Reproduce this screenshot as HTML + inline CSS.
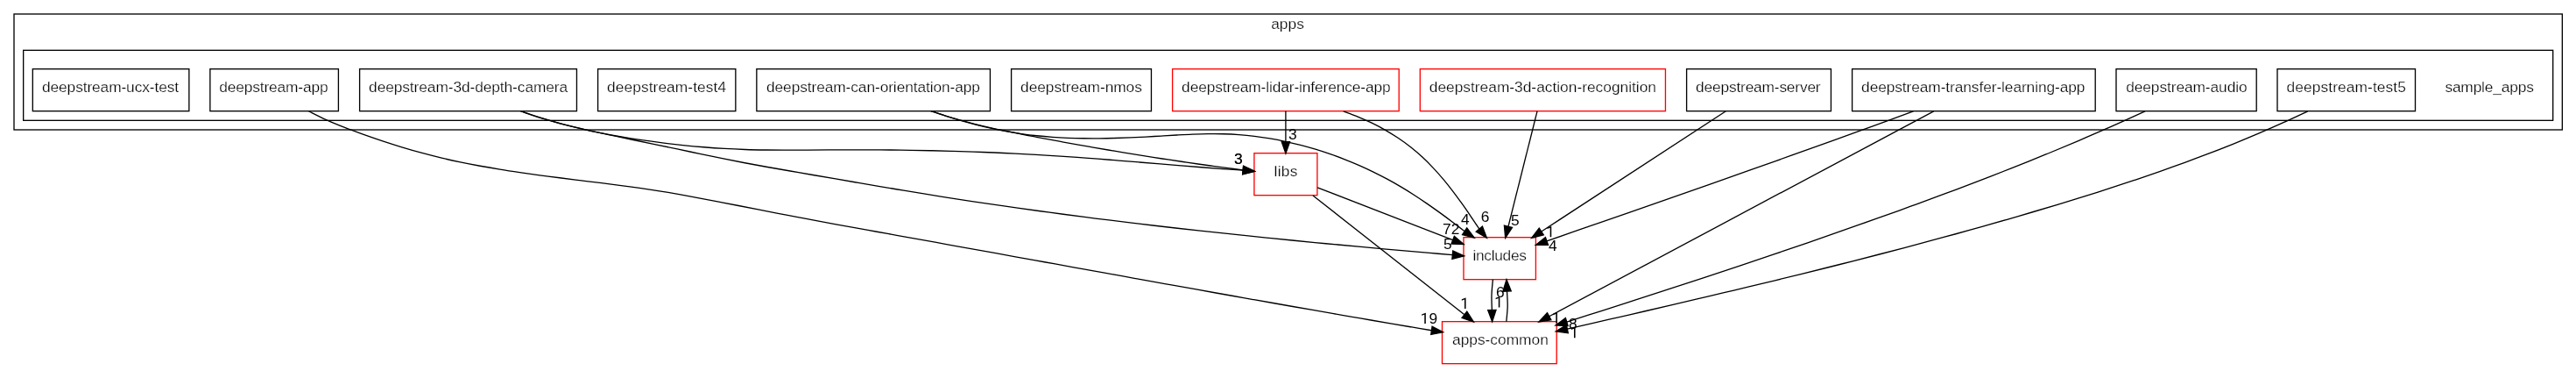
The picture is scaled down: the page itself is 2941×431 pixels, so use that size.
<!DOCTYPE html>
<html><head><meta charset="utf-8"><title>apps</title>
<style>html,body{margin:0;padding:0;background:#fff;}svg{display:block;}text{font-family:"Liberation Sans",sans-serif;fill:#000;}text.n{stroke:#fff;stroke-width:0.25px;}</style></head><body>
<svg width="2941" height="431" viewBox="0 0 2941 431">
<rect x="0" y="0" width="2941" height="431" fill="#fff"/>
<rect x="16.00" y="16.00" width="2909.33" height="132.00" fill="none" stroke="#000" stroke-width="1.33"/>
<rect x="26.67" y="57.33" width="2888.00" height="80.00" fill="none" stroke="#000" stroke-width="1.33"/>
<rect x="37.33" y="78.67" width="178.52" height="48.00" fill="#fff" stroke="black" stroke-width="1.33"/>
<rect x="239.85" y="78.67" width="146.55" height="48.00" fill="#fff" stroke="black" stroke-width="1.33"/>
<rect x="410.60" y="78.67" width="247.85" height="48.00" fill="#fff" stroke="black" stroke-width="1.33"/>
<rect x="682.60" y="78.67" width="157.25" height="48.00" fill="#fff" stroke="black" stroke-width="1.33"/>
<rect x="863.85" y="78.67" width="266.60" height="48.00" fill="#fff" stroke="black" stroke-width="1.33"/>
<rect x="1154.60" y="78.67" width="159.85" height="48.00" fill="#fff" stroke="black" stroke-width="1.33"/>
<rect x="1338.60" y="78.67" width="258.60" height="48.00" fill="#fff" stroke="red" stroke-width="1.33"/>
<rect x="1621.30" y="78.67" width="280.15" height="48.00" fill="#fff" stroke="red" stroke-width="1.33"/>
<rect x="1925.60" y="78.67" width="164.85" height="48.00" fill="#fff" stroke="black" stroke-width="1.33"/>
<rect x="2114.60" y="78.67" width="277.60" height="48.00" fill="#fff" stroke="black" stroke-width="1.33"/>
<rect x="2416.00" y="78.67" width="160.20" height="48.00" fill="#fff" stroke="black" stroke-width="1.33"/>
<rect x="2600.00" y="78.67" width="157.50" height="48.00" fill="#fff" stroke="black" stroke-width="1.33"/>
<rect x="1431.90" y="174.67" width="72.00" height="48.00" fill="#fff" stroke="red" stroke-width="1.33"/>
<rect x="1671.00" y="270.67" width="82.40" height="48.00" fill="#fff" stroke="red" stroke-width="1.33"/>
<rect x="1646.50" y="366.67" width="130.70" height="48.00" fill="#fff" stroke="red" stroke-width="1.33"/>
<path d="M351.90,126.50 C355.33,128.18 365.53,133.45 372.48,136.61 C379.43,139.76 386.51,142.63 393.62,145.43 C400.73,148.23 407.93,150.83 415.14,153.40 C422.35,155.97 429.61,158.45 436.90,160.85 C444.18,163.25 451.50,165.57 458.85,167.79 C466.19,170.00 473.57,172.13 480.97,174.14 C488.37,176.15 495.80,178.05 503.24,179.83 C510.69,181.62 518.16,183.27 525.64,184.84 C533.13,186.41 540.63,187.86 548.15,189.25 C555.67,190.63 563.21,191.91 570.76,193.15 C578.30,194.38 585.87,195.52 593.44,196.63 C601.01,197.74 608.59,198.78 616.17,199.81 C623.76,200.83 631.35,201.80 638.95,202.76 C646.55,203.73 654.15,204.66 661.75,205.60 C669.35,206.54 676.96,207.46 684.55,208.42 C692.15,209.37 699.75,210.32 707.35,211.32 C714.94,212.32 722.53,213.34 730.11,214.42 C737.68,215.51 745.26,216.63 752.82,217.83 C760.38,219.03 767.92,220.31 775.46,221.64 C783.00,222.97 790.53,224.37 798.05,225.79 C805.58,227.20 813.10,228.66 820.61,230.11 C828.13,231.57 835.65,233.04 843.16,234.51 C850.68,235.98 858.19,237.45 865.70,238.92 C873.22,240.39 880.73,241.86 888.25,243.32 C895.77,244.78 903.28,246.23 910.81,247.66 C918.33,249.10 925.85,250.51 933.38,251.92 C940.90,253.32 948.43,254.71 955.97,256.08 C963.50,257.46 971.03,258.83 978.56,260.19 C986.10,261.55 993.63,262.91 1001.17,264.26 C1008.71,265.62 1016.24,266.97 1023.78,268.32 C1031.32,269.67 1038.85,271.03 1046.39,272.38 C1053.92,273.74 1061.46,275.10 1068.99,276.46 C1076.53,277.81 1084.06,279.17 1091.60,280.53 C1099.13,281.89 1106.67,283.26 1114.20,284.62 C1121.74,285.98 1129.27,287.34 1136.81,288.70 C1144.34,290.06 1151.87,291.43 1159.41,292.79 C1166.94,294.15 1174.48,295.52 1182.01,296.88 C1189.55,298.24 1197.08,299.60 1204.62,300.97 C1212.15,302.33 1219.68,303.69 1227.22,305.05 C1234.75,306.42 1242.29,307.78 1249.82,309.14 C1257.36,310.50 1264.89,311.86 1272.43,313.22 C1279.96,314.57 1287.50,315.93 1295.03,317.29 C1302.57,318.64 1310.11,320.00 1317.64,321.35 C1325.18,322.71 1332.71,324.06 1340.25,325.41 C1347.79,326.76 1355.32,328.11 1362.86,329.46 C1370.40,330.80 1377.94,332.15 1385.47,333.49 C1393.01,334.84 1400.55,336.18 1408.09,337.52 C1415.63,338.86 1423.17,340.19 1430.71,341.53 C1438.25,342.86 1445.79,344.19 1453.33,345.52 C1460.87,346.85 1468.41,348.18 1475.95,349.50 C1483.49,350.82 1491.03,352.14 1498.57,353.46 C1506.12,354.78 1513.66,356.09 1521.20,357.40 C1528.75,358.71 1536.29,360.02 1543.84,361.32 C1551.38,362.63 1558.93,363.93 1566.47,365.22 C1574.02,366.52 1581.57,367.81 1589.11,369.10 C1596.66,370.39 1604.21,371.67 1611.76,372.95 C1619.31,374.23 1630.63,376.14 1634.41,376.78" fill="none" stroke="#000" stroke-width="1.33"/>
<polygon points="1633.74,381.40 1647.60,378.70 1635.08,372.16" fill="#000" stroke="#000" stroke-width="1.33" stroke-linejoin="miter"/>
<path d="M594.50,126.60 C598.25,127.86 609.45,131.80 616.99,134.17 C624.53,136.54 632.12,138.74 639.74,140.81 C647.36,142.88 655.03,144.80 662.72,146.60 C670.41,148.41 678.14,150.07 685.89,151.63 C693.63,153.19 701.41,154.62 709.21,155.97 C717.00,157.31 724.82,158.54 732.65,159.69 C740.48,160.85 748.32,161.90 756.17,162.88 C764.03,163.87 771.89,164.77 779.76,165.59 C787.62,166.40 795.50,167.14 803.38,167.78 C811.26,168.42 819.15,168.97 827.04,169.42 C834.93,169.87 842.82,170.22 850.72,170.48 C858.61,170.75 866.51,170.90 874.42,171.01 C882.32,171.13 890.22,171.15 898.12,171.16 C906.03,171.17 913.94,171.12 921.84,171.08 C929.75,171.04 937.66,170.97 945.56,170.92 C953.47,170.88 961.38,170.84 969.28,170.83 C977.19,170.82 985.10,170.83 993.00,170.87 C1000.91,170.90 1008.81,170.95 1016.72,171.03 C1024.62,171.11 1032.53,171.21 1040.43,171.33 C1048.34,171.46 1056.24,171.60 1064.14,171.78 C1072.05,171.95 1079.95,172.15 1087.85,172.37 C1095.75,172.59 1103.65,172.84 1111.55,173.12 C1119.45,173.39 1127.34,173.70 1135.24,174.03 C1143.14,174.36 1151.03,174.72 1158.93,175.10 C1166.82,175.49 1174.72,175.91 1182.61,176.36 C1190.50,176.80 1198.39,177.28 1206.28,177.79 C1214.17,178.30 1222.06,178.84 1229.94,179.40 C1237.83,179.96 1245.71,180.56 1253.60,181.17 C1261.48,181.77 1269.37,182.40 1277.25,183.04 C1285.13,183.68 1293.01,184.33 1300.89,184.98 C1308.78,185.63 1316.66,186.30 1324.54,186.95 C1332.42,187.60 1340.30,188.26 1348.18,188.89 C1356.06,189.53 1363.94,190.17 1371.83,190.78 C1379.71,191.39 1387.59,191.99 1395.47,192.56 C1403.36,193.13 1415.18,193.93 1419.12,194.20" fill="none" stroke="#000" stroke-width="1.33"/>
<polygon points="1418.70,198.85 1432.40,195.40 1419.54,189.55" fill="#000" stroke="#000" stroke-width="1.33" stroke-linejoin="miter"/>
<path d="M594.50,126.80 C598.66,128.19 611.08,132.60 619.45,135.16 C627.83,137.73 636.28,140.00 644.75,142.19 C653.23,144.37 661.76,146.34 670.30,148.28 C678.84,150.22 687.42,152.02 695.99,153.84 C704.56,155.67 713.14,157.44 721.72,159.24 C730.31,161.03 738.89,162.81 747.47,164.59 C756.06,166.38 764.64,168.17 773.22,169.96 C781.80,171.76 790.37,173.58 798.95,175.37 C807.53,177.15 816.10,178.96 824.69,180.69 C833.28,182.42 841.87,184.12 850.47,185.75 C859.08,187.38 867.70,188.95 876.32,190.49 C884.94,192.04 893.57,193.53 902.21,195.03 C910.84,196.53 919.48,198.00 928.11,199.48 C936.75,200.97 945.39,202.46 954.03,203.95 C962.66,205.44 971.30,206.93 979.94,208.41 C988.58,209.89 997.22,211.37 1005.86,212.84 C1014.51,214.30 1023.15,215.76 1031.80,217.19 C1040.44,218.63 1049.09,220.05 1057.75,221.45 C1066.40,222.84 1075.06,224.22 1083.72,225.57 C1092.37,226.92 1101.04,228.25 1109.70,229.56 C1118.37,230.87 1127.04,232.16 1135.71,233.42 C1144.38,234.69 1153.05,235.93 1161.73,237.16 C1170.41,238.38 1179.09,239.59 1187.77,240.78 C1196.45,241.96 1205.14,243.13 1213.82,244.28 C1222.51,245.43 1231.20,246.56 1239.89,247.67 C1248.58,248.78 1257.28,249.88 1265.97,250.96 C1274.67,252.04 1283.37,253.10 1292.07,254.14 C1300.77,255.19 1309.47,256.22 1318.18,257.23 C1326.88,258.25 1335.59,259.24 1344.30,260.23 C1353.01,261.21 1361.72,262.18 1370.43,263.14 C1379.14,264.09 1387.85,265.04 1396.57,265.96 C1405.28,266.89 1414.00,267.81 1422.72,268.71 C1431.43,269.62 1440.15,270.51 1448.87,271.39 C1457.59,272.27 1466.31,273.14 1475.04,273.99 C1483.76,274.85 1492.48,275.70 1501.21,276.54 C1509.93,277.37 1518.66,278.20 1527.38,279.02 C1536.11,279.84 1544.84,280.65 1553.57,281.45 C1562.29,282.25 1571.02,283.04 1579.75,283.82 C1588.48,284.61 1597.21,285.39 1605.94,286.16 C1614.67,286.93 1623.40,287.69 1632.13,288.45 C1640.86,289.20 1653.96,290.33 1658.32,290.70" fill="none" stroke="#000" stroke-width="1.33"/>
<polygon points="1657.90,295.35 1671.60,291.90 1658.74,286.05" fill="#000" stroke="#000" stroke-width="1.33" stroke-linejoin="miter"/>
<path d="M1062.90,126.60 C1065.64,127.51 1073.82,130.34 1079.32,132.07 C1084.81,133.80 1090.34,135.41 1095.89,136.96 C1101.43,138.50 1107.00,139.95 1112.58,141.35 C1118.17,142.74 1123.77,144.06 1129.39,145.33 C1135.00,146.61 1140.63,147.81 1146.27,148.99 C1151.91,150.17 1157.56,151.30 1163.21,152.42 C1168.86,153.54 1174.53,154.62 1180.19,155.70 C1185.85,156.78 1191.51,157.84 1197.18,158.90 C1202.84,159.95 1208.51,161.00 1214.18,162.03 C1219.85,163.06 1225.52,164.08 1231.20,165.09 C1236.87,166.10 1242.55,167.10 1248.23,168.08 C1253.91,169.07 1259.59,170.04 1265.27,171.00 C1270.95,171.96 1276.64,172.91 1282.32,173.85 C1288.01,174.78 1293.70,175.71 1299.39,176.62 C1305.08,177.53 1310.77,178.43 1316.46,179.32 C1322.16,180.21 1327.85,181.09 1333.55,181.95 C1339.25,182.81 1344.95,183.66 1350.65,184.50 C1356.35,185.34 1362.05,186.16 1367.76,186.97 C1373.46,187.78 1379.17,188.58 1384.88,189.37 C1390.59,190.16 1396.30,190.93 1402.01,191.69 C1407.72,192.45 1416.29,193.55 1419.15,193.93" fill="none" stroke="#000" stroke-width="1.33"/>
<polygon points="1418.64,198.57 1432.40,195.40 1419.67,189.29" fill="#000" stroke="#000" stroke-width="1.33" stroke-linejoin="miter"/>
<path d="M1062.90,126.60 C1065.70,127.53 1074.05,130.39 1079.69,132.18 C1085.32,133.97 1091.00,135.70 1096.70,137.34 C1102.40,138.99 1108.13,140.56 1113.89,142.03 C1119.65,143.50 1125.44,144.90 1131.24,146.18 C1137.04,147.46 1142.87,148.65 1148.71,149.72 C1154.55,150.78 1160.40,151.75 1166.26,152.59 C1172.12,153.43 1177.99,154.15 1183.87,154.77 C1189.75,155.39 1195.64,155.89 1201.53,156.32 C1207.42,156.74 1213.33,157.05 1219.23,157.30 C1225.14,157.54 1231.05,157.69 1236.96,157.78 C1242.88,157.87 1248.80,157.88 1254.72,157.84 C1260.64,157.79 1266.56,157.68 1272.49,157.52 C1278.41,157.37 1284.34,157.16 1290.27,156.91 C1296.19,156.67 1302.12,156.38 1308.05,156.07 C1313.97,155.77 1319.90,155.41 1325.82,155.07 C1331.74,154.73 1337.66,154.35 1343.57,154.03 C1349.49,153.71 1355.41,153.38 1361.32,153.15 C1367.23,152.91 1373.14,152.71 1379.05,152.64 C1384.96,152.57 1390.87,152.56 1396.78,152.72 C1402.69,152.88 1408.60,153.15 1414.50,153.59 C1420.40,154.03 1426.30,154.62 1432.19,155.34 C1438.07,156.07 1443.96,156.94 1449.81,157.93 C1455.66,158.92 1461.50,160.05 1467.31,161.29 C1473.12,162.54 1478.91,163.91 1484.65,165.39 C1490.40,166.87 1496.12,168.47 1501.80,170.18 C1507.47,171.89 1513.12,173.71 1518.72,175.65 C1524.32,177.58 1529.88,179.63 1535.39,181.79 C1540.91,183.95 1546.38,186.22 1551.80,188.59 C1557.22,190.97 1562.60,193.46 1567.92,196.05 C1573.24,198.65 1578.51,201.35 1583.72,204.16 C1588.93,206.97 1594.09,209.89 1599.19,212.91 C1604.29,215.92 1609.32,219.05 1614.31,222.26 C1619.30,225.46 1624.23,228.77 1629.12,232.12 C1634.01,235.48 1638.85,238.92 1643.67,242.39 C1648.48,245.86 1653.24,249.39 1657.99,252.94 C1662.73,256.49 1669.77,261.88 1672.13,263.67" fill="none" stroke="#000" stroke-width="1.33"/>
<polygon points="1669.53,267.55 1683.20,271.10 1674.73,259.80" fill="#000" stroke="#000" stroke-width="1.33" stroke-linejoin="miter"/>
<path d="M1467.90,126.80 L1467.90,161.57" fill="none" stroke="#000" stroke-width="1.33"/>
<polygon points="1463.23,161.57 1467.90,174.90 1472.57,161.57" fill="#000" stroke="#000" stroke-width="1.33" stroke-linejoin="miter"/>
<path d="M1533.80,126.80 C1536.53,127.84 1544.77,130.78 1550.16,133.02 C1555.55,135.25 1560.90,137.64 1566.14,140.20 C1571.39,142.76 1576.57,145.48 1581.63,148.37 C1586.69,151.27 1591.66,154.33 1596.49,157.57 C1601.32,160.80 1606.04,164.21 1610.60,167.79 C1615.15,171.38 1619.57,175.16 1623.83,179.08 C1628.10,183.01 1632.20,187.12 1636.19,191.34 C1640.18,195.56 1644.02,199.95 1647.78,204.41 C1651.54,208.86 1655.16,213.45 1658.72,218.09 C1662.28,222.73 1665.73,227.47 1669.14,232.22 C1672.54,236.97 1675.85,241.80 1679.13,246.61 C1682.41,251.42 1687.21,258.68 1688.83,261.09" fill="none" stroke="#000" stroke-width="1.33"/>
<polygon points="1685.25,264.09 1697.40,271.30 1692.41,258.09" fill="#000" stroke="#000" stroke-width="1.33" stroke-linejoin="miter"/>
<path d="M1755.00,126.80 L1721.95,258.37" fill="none" stroke="#000" stroke-width="1.33"/>
<polygon points="1717.42,257.23 1718.70,271.30 1726.48,259.51" fill="#000" stroke="#000" stroke-width="1.33" stroke-linejoin="miter"/>
<path d="M1970.40,126.80 L1759.77,264.02" fill="none" stroke="#000" stroke-width="1.33"/>
<polygon points="1757.22,260.11 1748.60,271.30 1762.32,267.94" fill="#000" stroke="#000" stroke-width="1.33" stroke-linejoin="miter"/>
<path d="M2184.40,126.80 C2176.68,129.63 2153.54,138.15 2138.10,143.78 C2122.65,149.40 2107.19,154.99 2091.72,160.56 C2076.25,166.13 2060.77,171.66 2045.29,177.18 C2029.80,182.69 2014.31,188.18 1998.80,193.65 C1983.30,199.13 1967.79,204.58 1952.28,210.02 C1936.77,215.46 1921.25,220.88 1905.73,226.30 C1890.21,231.72 1874.68,237.13 1859.16,242.53 C1843.63,247.93 1828.10,253.33 1812.57,258.73 C1797.05,264.13 1773.76,272.23 1765.99,274.93" fill="none" stroke="#000" stroke-width="1.33"/>
<polygon points="1764.46,270.51 1753.40,279.30 1767.52,279.34" fill="#000" stroke="#000" stroke-width="1.33" stroke-linejoin="miter"/>
<path d="M2207.70,126.80 L1768.66,360.73" fill="none" stroke="#000" stroke-width="1.33"/>
<polygon points="1766.47,356.61 1756.90,367.00 1770.86,364.85" fill="#000" stroke="#000" stroke-width="1.33" stroke-linejoin="miter"/>
<path d="M2449.00,126.80 C2442.72,129.65 2423.93,138.28 2411.33,143.87 C2398.73,149.46 2386.09,154.94 2373.41,160.33 C2360.72,165.73 2348.00,171.02 2335.25,176.24 C2322.49,181.46 2309.70,186.59 2296.88,191.66 C2284.06,196.72 2271.21,201.70 2258.34,206.63 C2245.46,211.56 2232.56,216.41 2219.64,221.22 C2206.72,226.03 2193.77,230.77 2180.81,235.48 C2167.85,240.19 2154.87,244.85 2141.88,249.47 C2128.89,254.10 2115.89,258.68 2102.87,263.23 C2089.86,267.78 2076.83,272.29 2063.78,276.77 C2050.74,281.26 2037.69,285.70 2024.63,290.12 C2011.57,294.55 1998.50,298.93 1985.42,303.30 C1972.34,307.66 1959.25,312.00 1946.15,316.31 C1933.06,320.62 1919.95,324.91 1906.85,329.18 C1893.74,333.45 1880.62,337.70 1867.51,341.93 C1854.39,346.16 1841.26,350.37 1828.14,354.57 C1815.01,358.77 1795.32,365.03 1788.75,367.12" fill="none" stroke="#000" stroke-width="1.33"/>
<polygon points="1787.39,362.65 1776.00,371.00 1790.11,371.59" fill="#000" stroke="#000" stroke-width="1.33" stroke-linejoin="miter"/>
<path d="M2634.70,126.80 C2630.09,128.94 2616.32,135.46 2607.06,139.63 C2597.81,143.81 2588.52,147.88 2579.19,151.86 C2569.86,155.84 2560.49,159.72 2551.09,163.53 C2541.69,167.33 2532.25,171.04 2522.79,174.68 C2513.33,178.31 2503.83,181.87 2494.31,185.35 C2484.79,188.84 2475.24,192.24 2465.67,195.59 C2456.10,198.94 2446.50,202.22 2436.88,205.44 C2427.26,208.66 2417.62,211.82 2407.97,214.94 C2398.31,218.05 2388.64,221.11 2378.95,224.13 C2369.26,227.15 2359.56,230.12 2349.84,233.06 C2340.13,235.99 2330.41,238.89 2320.67,241.76 C2310.94,244.63 2301.19,247.46 2291.44,250.27 C2281.69,253.07 2271.93,255.84 2262.16,258.59 C2252.39,261.34 2242.62,264.05 2232.83,266.74 C2223.05,269.43 2213.25,272.09 2203.46,274.73 C2193.66,277.36 2183.85,279.97 2174.04,282.56 C2164.23,285.15 2154.41,287.71 2144.58,290.25 C2134.76,292.79 2124.93,295.31 2115.09,297.81 C2105.26,300.31 2095.41,302.78 2085.57,305.24 C2075.72,307.70 2065.87,310.14 2056.02,312.57 C2046.16,314.99 2036.30,317.40 2026.44,319.79 C2016.58,322.18 2006.71,324.55 1996.84,326.92 C1986.98,329.28 1977.10,331.63 1967.23,333.97 C1957.35,336.31 1947.48,338.63 1937.60,340.95 C1927.72,343.26 1917.84,345.57 1907.96,347.87 C1898.07,350.16 1888.19,352.45 1878.31,354.73 C1868.42,357.02 1858.54,359.29 1848.65,361.56 C1838.77,363.84 1828.88,366.10 1819.00,368.36 C1809.11,370.63 1794.28,374.01 1789.34,375.14" fill="none" stroke="#000" stroke-width="1.33"/>
<polygon points="1788.38,370.57 1776.30,377.90 1790.31,379.71" fill="#000" stroke="#000" stroke-width="1.33" stroke-linejoin="miter"/>
<path d="M1504.10,213.80 L1658.67,273.68" fill="none" stroke="#000" stroke-width="1.33"/>
<polygon points="1656.98,278.04 1671.10,278.50 1660.36,269.33" fill="#000" stroke="#000" stroke-width="1.33" stroke-linejoin="miter"/>
<path d="M1499.00,223.00 L1671.92,358.77" fill="none" stroke="#000" stroke-width="1.33"/>
<polygon points="1669.03,362.44 1682.40,367.00 1674.80,355.09" fill="#000" stroke="#000" stroke-width="1.33" stroke-linejoin="miter"/>
<path d="M1704.40,318.70 C1704.17,321.63 1703.17,330.50 1703.00,336.30 C1702.83,342.10 1703.30,350.61 1703.37,353.47" fill="none" stroke="#000" stroke-width="1.33"/>
<polygon points="1698.70,353.57 1703.65,366.80 1708.03,353.37" fill="#000" stroke="#000" stroke-width="1.33" stroke-linejoin="miter"/>
<path d="M1719.80,366.70 C1720.03,363.80 1721.08,355.08 1721.20,349.30 C1721.32,343.52 1720.64,334.90 1720.52,332.02" fill="none" stroke="#000" stroke-width="1.33"/>
<polygon points="1725.19,331.84 1720.00,318.70 1715.86,332.20" fill="#000" stroke="#000" stroke-width="1.33" stroke-linejoin="miter"/>
<g style="filter:grayscale(1)" opacity="0.99">
<text class="n" x="126.04" y="104.87" text-anchor="middle" font-size="17.33" textLength="156.02" lengthAdjust="spacing">deepstream-ucx-test</text>
<text class="n" x="312.48" y="104.87" text-anchor="middle" font-size="17.33" textLength="124.25" lengthAdjust="spacing">deepstream-app</text>
<text class="n" x="534.63" y="104.87" text-anchor="middle" font-size="17.33" textLength="227.05" lengthAdjust="spacing">deepstream-3d-depth-camera</text>
<text class="n" x="761.08" y="104.87" text-anchor="middle" font-size="17.33" textLength="135.95" lengthAdjust="spacing">deepstream-test4</text>
<text class="n" x="997.00" y="104.87" text-anchor="middle" font-size="17.33" textLength="244.00" lengthAdjust="spacing">deepstream-can-orientation-app</text>
<text class="n" x="1234.48" y="104.87" text-anchor="middle" font-size="17.33" textLength="138.75" lengthAdjust="spacing">deepstream-nmos</text>
<text class="n" x="1468.40" y="104.87" text-anchor="middle" font-size="17.33" textLength="238.60" lengthAdjust="spacing">deepstream-lidar-inference-app</text>
<text class="n" x="1761.38" y="104.87" text-anchor="middle" font-size="17.33" textLength="259.15" lengthAdjust="spacing">deepstream-3d-action-recognition</text>
<text class="n" x="2007.37" y="104.87" text-anchor="middle" font-size="17.33" textLength="142.55" lengthAdjust="spacing">deepstream-server</text>
<text class="n" x="2252.75" y="104.87" text-anchor="middle" font-size="17.33" textLength="255.30" lengthAdjust="spacing">deepstream-transfer-learning-app</text>
<text class="n" x="2496.40" y="104.87" text-anchor="middle" font-size="17.33" textLength="138.40" lengthAdjust="spacing">deepstream-audio</text>
<text class="n" x="2678.70" y="104.87" text-anchor="middle" font-size="17.33" textLength="136.40" lengthAdjust="spacing">deepstream-test5</text>
<text class="n" x="1467.95" y="200.87" text-anchor="middle" font-size="17.33" textLength="27.00" lengthAdjust="spacing">libs</text>
<text class="n" x="1712.20" y="296.87" text-anchor="middle" font-size="17.33" textLength="61.40" lengthAdjust="spacing">includes</text>
<text class="n" x="1712.90" y="392.87" text-anchor="middle" font-size="17.33" textLength="109.80" lengthAdjust="spacing">apps-common</text>
<text class="n" x="1470.00" y="32.60" text-anchor="middle" font-size="17.33" textLength="37.70" lengthAdjust="spacing">apps</text>
<text class="n" x="2842.10" y="104.70" text-anchor="middle" font-size="17.33" textLength="101.40" lengthAdjust="spacing">sample_apps</text>
<path d="M729 0H543V1233L170 1096V1264L700 1463H729Z" transform="translate(1621.67,369.10) scale(0.00846,-0.00846)" fill="#000"/>
<text x="1636.27" y="369.10" text-anchor="middle" font-size="17.33">9</text>
<text x="1413.80" y="186.90" text-anchor="middle" font-size="17.33">3</text>
<text x="1413.80" y="186.90" text-anchor="middle" font-size="17.33">3</text>
<text x="1475.70" y="158.70" text-anchor="middle" font-size="17.33">3</text>
<text x="1652.80" y="283.80" text-anchor="middle" font-size="17.33">5</text>
<text x="1651.93" y="266.50" text-anchor="middle" font-size="17.33">7</text>
<text x="1661.67" y="266.50" text-anchor="middle" font-size="17.33">2</text>
<text x="1672.70" y="256.00" text-anchor="middle" font-size="17.33">4</text>
<text x="1695.50" y="253.40" text-anchor="middle" font-size="17.33">6</text>
<text x="1729.80" y="257.40" text-anchor="middle" font-size="17.33">5</text>
<path d="M729 0H543V1233L170 1096V1264L700 1463H729Z" transform="translate(1765.09,270.30) scale(0.00846,-0.00846)" fill="#000"/>
<text x="1772.80" y="285.80" text-anchor="middle" font-size="17.33">4</text>
<text x="1712.90" y="339.30" text-anchor="middle" font-size="17.33">6</text>
<path d="M729 0H543V1233L170 1096V1264L700 1463H729Z" transform="translate(1706.19,350.50) scale(0.00846,-0.00846)" fill="#000"/>
<path d="M729 0H543V1233L170 1096V1264L700 1463H729Z" transform="translate(1667.39,351.90) scale(0.00846,-0.00846)" fill="#000"/>
<path d="M729 0H543V1233L170 1096V1264L700 1463H729Z" transform="translate(1771.74,368.50) scale(0.00846,-0.00846)" fill="#000"/>
<text x="1795.70" y="374.50" text-anchor="middle" font-size="17.33">8</text>
<path d="M729 0H543V1233L170 1096V1264L700 1463H729Z" transform="translate(1792.39,385.20) scale(0.00846,-0.00846)" fill="#000"/>
</g>
</svg></body></html>
